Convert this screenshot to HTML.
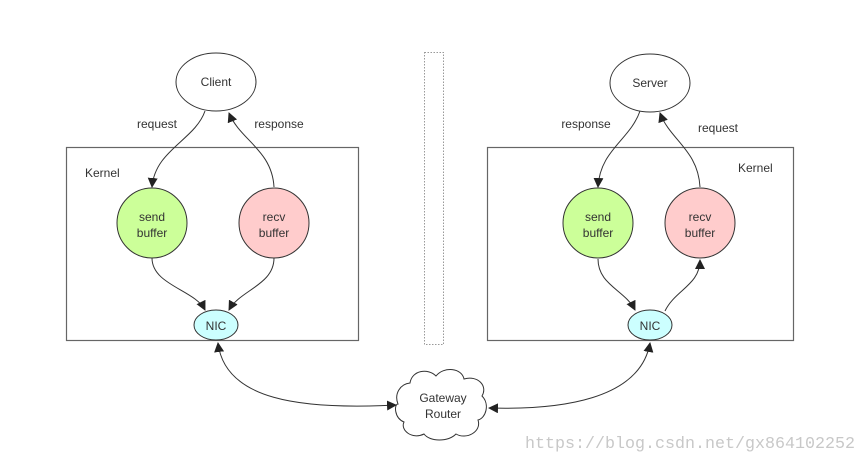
<!DOCTYPE html>
<html><head><meta charset="utf-8"><style>
html,body{margin:0;padding:0;background:#fff;}
svg{display:block;}
text{font-family:"Liberation Sans",sans-serif;fill:#333;}
</style></head><body>
<svg width="866" height="462" viewBox="0 0 866 462" xmlns="http://www.w3.org/2000/svg">
<defs>
<marker id="a" viewBox="0 0 10 10" refX="9" refY="5" markerWidth="10" markerHeight="10" orient="auto-start-reverse" markerUnits="userSpaceOnUse">
<path d="M0,0 L10,5 L0,10 z" fill="#222"/></marker>
</defs>
<rect x="66.5" y="147.5" width="292" height="193" fill="none" stroke="#666" stroke-width="1.2"/>
<rect x="487.5" y="147.5" width="306" height="193" fill="none" stroke="#666" stroke-width="1.2"/>
<rect x="424.5" y="52.5" width="19" height="292" fill="none" stroke="#999" stroke-width="1" stroke-dasharray="1.5,1.5"/>
<text x="85" y="177" font-size="12">Kernel</text>
<text x="738" y="172" font-size="12">Kernel</text>
<g fill="none" stroke="#333" stroke-width="1">
<path d="M205,111 C195,140 155,150 152,187" marker-end="url(#a)"/>
<path d="M274,187 C272,150 240,140 229,113" marker-end="url(#a)"/>
<path d="M152,258 C152,285 195,290 205,310" marker-end="url(#a)"/>
<path d="M274,258 C274,285 240,290 229,310" marker-end="url(#a)"/>
<path d="M640,111 C630,140 600,150 598,187" marker-end="url(#a)"/>
<path d="M700,187 C698,150 670,140 660,113" marker-end="url(#a)"/>
<path d="M598,259 C598,285 625,290 635,310" marker-end="url(#a)"/>
<path d="M665,311 C675,290 700,285 700,260" marker-end="url(#a)"/>
<path d="M218,343 C225,400 300,410 396,405" marker-start="url(#a)" marker-end="url(#a)"/>
<path d="M650,343 C640,400 560,410 489,408" marker-start="url(#a)" marker-end="url(#a)"/>
</g>
<ellipse cx="216" cy="82" rx="40" ry="29" fill="#fff" stroke="#333"/>
<text x="216" y="86" font-size="12" text-anchor="middle">Client</text>
<ellipse cx="650" cy="83" rx="40" ry="29" fill="#fff" stroke="#333"/>
<text x="650" y="87" font-size="12" text-anchor="middle">Server</text>
<circle cx="152" cy="223" r="35" fill="#ccff99" stroke="#333"/>
<text x="152" y="221" font-size="12" text-anchor="middle">send</text>
<text x="152" y="237" font-size="12" text-anchor="middle">buffer</text>
<circle cx="274" cy="223" r="35" fill="#ffcccc" stroke="#333"/>
<text x="274" y="221" font-size="12" text-anchor="middle">recv</text>
<text x="274" y="237" font-size="12" text-anchor="middle">buffer</text>
<circle cx="598" cy="223" r="35" fill="#ccff99" stroke="#333"/>
<text x="598" y="221" font-size="12" text-anchor="middle">send</text>
<text x="598" y="237" font-size="12" text-anchor="middle">buffer</text>
<circle cx="700" cy="223" r="35" fill="#ffcccc" stroke="#333"/>
<text x="700" y="221" font-size="12" text-anchor="middle">recv</text>
<text x="700" y="237" font-size="12" text-anchor="middle">buffer</text>
<ellipse cx="216" cy="325" rx="22" ry="15" fill="#ccffff" stroke="#333"/>
<text x="216" y="330" font-size="12" text-anchor="middle">NIC</text>
<ellipse cx="650" cy="325" rx="22" ry="15" fill="#ccffff" stroke="#333"/>
<text x="650" y="330" font-size="12" text-anchor="middle">NIC</text>
<text x="157" y="128" font-size="12" text-anchor="middle">request</text>
<text x="279" y="128" font-size="12" text-anchor="middle">response</text>
<text x="586" y="128" font-size="12" text-anchor="middle">response</text>
<text x="718" y="132" font-size="12" text-anchor="middle">request</text>
<path d="M410,383 C412,370 428,368 436,376 C444,366 462,368 464,379 C478,375 488,386 482,396 C490,404 486,418 478,420 C482,432 466,440 456,434 C448,442 430,442 424,434 C412,440 400,430 404,422 C394,418 394,404 398,404 C394,394 400,384 410,383 Z" fill="#fff" stroke="#333"/>
<text x="443" y="402" font-size="12" text-anchor="middle">Gateway</text>
<text x="443" y="418" font-size="12" text-anchor="middle">Router</text>
<text x="525" y="448" font-size="16.5" textLength="330" lengthAdjust="spacingAndGlyphs" style="fill:#c8c8c8;font-family:'Liberation Mono',monospace;">https://blog.csdn.net/gx864102252</text>
</svg>
</body></html>
